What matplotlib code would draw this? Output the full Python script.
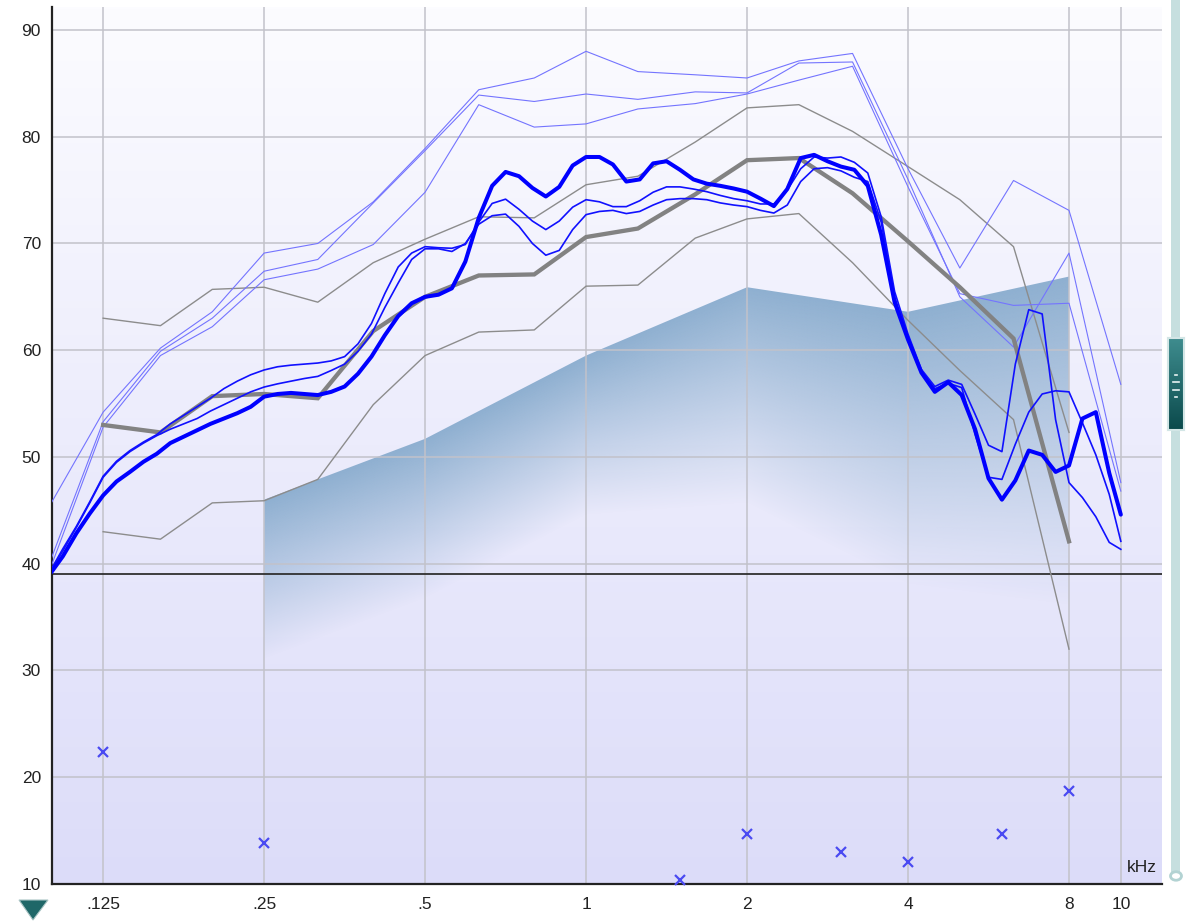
import numpy as np
import matplotlib
matplotlib.use("Agg")
import matplotlib.pyplot as plt
from matplotlib.patches import Polygon, Rectangle, Circle
from matplotlib.colors import to_rgb

plt.rcParams["font.family"] = ["Liberation Sans", "DejaVu Sans"]

# third-octave frequencies (kHz) for the polyline curves
third_khz = [0.1, 0.125, 0.16, 0.2, 0.25, 0.315, 0.4, 0.5, 0.63, 0.8, 1, 1.25,
             1.6, 2, 2.5, 3.15, 4, 5, 6.3, 8, 10]

light_1 = [45.7, 54.2, 60.2, 63.6, 69.1, 70.0, 73.9, 78.9, 84.4, 85.5, 88.0, 86.1,
           85.8, 85.5, 87.1, 87.8, 77.0, 67.7, 75.9, 73.1, 56.8]
light_2 = [40.5, 53.3, 59.9, 63.0, 67.4, 68.5, 73.8, 78.7, 83.9, 83.3, 84.0, 83.5,
           84.2, 84.1, 86.9, 87.0, 76.0, 65.0, 60.3, 69.1, 47.6]
light_3 = [39.8, 52.8, 59.5, 62.2, 66.6, 67.6, 69.9, 74.8, 83.0, 80.9, 81.2, 82.6,
           83.1, 84.0, 85.3, 86.6, 75.3, 65.3, 64.2, 64.4, 46.8]

# speech range band (.125 - 8 kHz)
band_khz = third_khz[1:20]
upper_gray = [63.0, 62.3, 65.7, 65.9, 64.5, 68.2, 70.4, 72.5, 72.4, 75.5, 76.3, 79.5,
              82.7, 83.0, 80.5, 77.2, 74.1, 69.7, 52.3]
target = [53.0, 52.3, 55.7, 55.9, 55.5, 61.8, 65.0, 67.0, 67.1, 70.6, 71.4, 74.6,
          77.8, 78.0, 74.7, 70.2, 65.9, 61.1, 42.1]
lower_gray = [43.0, 42.3, 45.7, 45.9, 47.9, 54.9, 59.5, 61.7, 61.9, 66.0, 66.1, 70.5,
              72.3, 72.8, 68.2, 62.8, 58.1, 53.5, 32.0]

# 1/12-octave frequencies for the measured curves
fine_khz = [0.1, 0.1051, 0.1114, 0.118,
            0.125, 0.1324, 0.1403, 0.1487, 0.1575, 0.1669, 0.1768, 0.1873, 0.1984, 0.2102, 0.2227, 0.236,
            0.25, 0.2649, 0.2806, 0.2973, 0.315, 0.3337, 0.3536, 0.3746, 0.3969, 0.4204, 0.4454, 0.4719,
            0.5, 0.5297, 0.5612, 0.5946, 0.63, 0.6674, 0.7071, 0.7492, 0.7937, 0.8409, 0.8909, 0.9439,
            1.0, 1.0595, 1.1225, 1.1892, 1.2599, 1.3348, 1.4142, 1.4983, 1.5874, 1.6818, 1.7818, 1.8877,
            2.0, 2.1189, 2.2449, 2.3784, 2.5198, 2.6697, 2.8284, 2.9966, 3.1748, 3.3636, 3.5636, 3.7755,
            4.0, 4.2379, 4.4898, 4.7568, 5.0397, 5.3394, 5.6569, 5.9932, 6.3496, 6.7272, 7.1272, 7.551,
            8.0, 8.4757, 8.9797, 9.5137, 10.0]

thick_blue = [39.2, 40.7, 42.85, 44.7,
              46.4, 47.7, 48.6, 49.55, 50.3, 51.3, 51.9, 52.5, 53.1, 53.6, 54.1, 54.7,
              55.65, 55.9, 56.0, 55.9, 55.8, 56.1, 56.6, 57.8, 59.4, 61.4, 63.2, 64.4,
              65.0, 65.2, 65.8, 68.3, 72.4, 75.4, 76.7, 76.3, 75.2, 74.4, 75.3, 77.3,
              78.1, 78.1, 77.4, 75.8, 76.0, 77.5, 77.7, 76.9, 76.0, 75.6, 75.4, 75.15,
              74.85, 74.2, 73.5, 75.1, 78.0, 78.3, 77.7, 77.2, 76.9, 75.4, 70.8, 64.5,
              61.0, 57.9, 56.1, 57.0, 55.8, 52.6, 48.0, 46.0, 47.8, 50.6, 50.2, 48.6,
              49.2, 53.6, 54.2, 48.5, 44.6]
mid_blue_a = [39.4, 41.2, 43.4, 45.7,
              48.1, 49.5, 50.5, 51.3, 52.0, 52.6, 53.1, 53.6, 54.3, 54.9, 55.5, 56.1,
              56.55, 56.85, 57.1, 57.35, 57.55, 58.1, 58.7, 59.9, 61.5, 64.0, 66.3, 68.5,
              69.5, 69.5, 69.25, 70.0, 71.8, 72.6, 72.75, 71.6, 70.0, 68.9, 69.35, 71.3,
              72.7, 73.0, 73.1, 72.8, 73.0, 73.6, 74.1, 74.2, 74.2, 74.1, 73.8, 73.6,
              73.45, 73.1, 72.85, 73.6, 75.8, 77.0, 77.1, 76.8, 76.2, 75.8, 72.0, 65.0,
              61.2, 58.0, 56.4, 56.9, 56.5, 52.1, 48.1, 47.9, 51.2, 54.2, 55.9, 56.2,
              56.1, 53.2, 50.2, 46.5, 42.1]
mid_blue_b = [39.5, 41.4, 43.5, 45.8,
              48.2, 49.6, 50.6, 51.4, 52.1, 53.1, 53.9, 54.7, 55.5, 56.4, 57.1, 57.7,
              58.15, 58.45, 58.6, 58.7, 58.8, 59.0, 59.4, 60.6, 62.5, 65.3, 67.8, 69.1,
              69.7, 69.6, 69.55, 69.9, 72.0, 73.75, 74.15, 73.2, 72.1, 71.3, 72.1, 73.4,
              74.1, 73.9, 73.45, 73.45, 74.0, 74.8, 75.3, 75.3, 75.1, 74.85, 74.5, 74.2,
              74.0, 73.7, 73.7, 75.0, 77.0, 78.1, 78.0, 78.1, 77.6, 76.6, 72.5, 65.5,
              61.5, 58.2, 56.6, 57.2, 56.8, 54.0, 51.1, 50.5, 58.7, 63.8, 63.4, 53.5,
              47.6, 46.2, 44.4, 42.0, 41.35]

# shaded area (upper edge)
shade_khz = [0.25, 0.5, 1, 2, 4, 8]
shade_top = [46.0, 51.7, 59.5, 65.9, 63.6, 66.9]

# x markers
mark_khz = [0.125, 0.25, 1.5, 2, 3, 4, 6, 8]
mark_db = [22.4, 13.8, 10.4, 14.7, 13.0, 12.1, 14.7, 18.7]

xtick_khz = [0.125, 0.25, 0.5, 1, 2, 4, 8, 10]
xtick_labels = [".125", ".25", ".5", "1", "2", "4", "8", "10"]
ytick_db = [10, 20, 30, 40, 50, 60, 70, 80, 90]

W, H = 1196, 921
xlo, xhi = 0.1003, 11.94
ylo, yhi = 10, 92.15

fig = plt.figure(figsize=(W / 100, H / 100), dpi=100)
rect = [52 / W, 37 / H, 1110 / W, 877 / H]

# background gradient
bg_ax = fig.add_axes(rect, zorder=0)
g = np.linspace(0, 1, 256)[:, None, None]
top_c = np.array([252, 252, 255]) / 255
bot_c = np.array([220, 220, 249]) / 255
bg = top_c * (1 - g) + bot_c * g
bg_ax.imshow(bg, aspect="auto", extent=(0, 1, 0, 1))
bg_ax.axis("off")

ax = fig.add_axes(rect, zorder=1)
ax.patch.set_alpha(0)
ax.set_xscale("log")
ax.set_autoscale_on(False)
ax.set_xlim(xlo, xhi)
ax.set_ylim(ylo, yhi)

# shaded area with a gradient fading downwards
nx, ny = 700, 600
u = np.linspace(0, 1, nx)
v = np.linspace(0, 1, ny)
fu = 10 ** (np.log10(xlo) + u * (np.log10(xhi) - np.log10(xlo)))
dbv = ylo + v * (yhi - ylo)
top_edge = np.interp(np.log2(fu), np.log2(shade_khz), shade_top)
depth = top_edge[None, :] - dbv[:, None]
octs = np.log2(fu)
fade_len = np.where(octs <= 0, 15.0, 15.0 + 5.3 * octs)
alpha = np.clip(1 - depth / fade_len[None, :], 0, 1) * 0.95
rgba = np.zeros((ny, nx, 4))
rgba[..., :3] = to_rgb("#89acce")
rgba[..., 3] = alpha
im = ax.imshow(rgba, extent=(0, 1, 0, 1), origin="lower", transform=ax.transAxes,
               aspect="auto", zorder=1, interpolation="bilinear")
area = ax.fill_between(shade_khz, ylo, shade_top, facecolor="none", edgecolor="none")
im.set_clip_path(area.get_paths()[0], ax.transData)

# grid
ax.set_axisbelow("line")
ax.grid(True, which="major", color="#c2c2ca", linewidth=1.1)
ax.minorticks_off()
ax.set_xticks(xtick_khz)
ax.set_xticklabels(xtick_labels)
ax.set_yticks(ytick_db)
ax.tick_params(length=0, labelsize=12.5, colors="#222222")
ax.tick_params(axis="x", pad=9)
ax.tick_params(axis="y", pad=8)

for s in ["top", "right"]:
    ax.spines[s].set_visible(False)
for s in ["left", "bottom"]:
    ax.spines[s].set_color("#222222")
    ax.spines[s].set_linewidth(1.6)

ax.axhline(39, color="#303030", linewidth=1.3, zorder=2.2)

# curves
for band in (upper_gray, lower_gray):
    ax.plot(band_khz, band, color="#8c8c8c", linewidth=1.0, zorder=2.4)
for lt in (light_1, light_2, light_3):
    ax.plot(third_khz, lt, color="#7474ff", linewidth=0.8, zorder=2.6)
ax.plot(band_khz, target, color="#828282", linewidth=3.1, zorder=3,
        solid_joinstyle="miter")
ax.plot(fine_khz, mid_blue_a, color="#1010ff", linewidth=1.2, zorder=4,
        solid_joinstyle="round")
ax.plot(fine_khz, mid_blue_b, color="#1010ff", linewidth=1.2, zorder=4,
        solid_joinstyle="round")
ax.plot(fine_khz, thick_blue, color="#0000ff", linewidth=2.9, zorder=5,
        solid_joinstyle="round", solid_capstyle="round")

ax.plot(mark_khz, mark_db, linestyle="none", marker="x", color="#4a4af2",
        markersize=6.5, markeredgewidth=1.6, zorder=6, clip_on=False)

ax.text(0.9955, 0.019, "kHz", transform=ax.transAxes, ha="right", va="center",
        fontsize=12.5, color="#222222")


# right slider and small marker (figure decoration)
def fx(px):
    return px / W


def fy(py):
    return 1 - py / H


fig.add_artist(Rectangle((fx(1171), fy(872)), fx(9), 872 / H, facecolor="#c6dfdf",
                         edgecolor="none", zorder=1))
fig.add_artist(Circle((fx(1176), fy(876)), 5.5 / W, facecolor="white",
                      edgecolor="#b3d3d3", linewidth=2, zorder=1))
knob_ax = fig.add_axes([fx(1168), fy(430), 16 / W, 92 / H], zorder=5)
kg = np.linspace(0, 1, 64)[:, None, None]
k_top = np.array(to_rgb("#3f8d8f"))
k_bot = np.array(to_rgb("#0b4a4c"))
knob_ax.imshow(k_top * (1 - kg) + k_bot * kg, aspect="auto", extent=(0, 1, 0, 1))
for yy, ww in [(0.6, 0.08), (0.52, 0.2), (0.44, 0.2), (0.36, 0.08)]:
    knob_ax.plot([0.5 - ww, 0.5 + ww], [yy, yy], color="#e8f2f2", linewidth=1.2)
knob_ax.set_xlim(0, 1)
knob_ax.set_ylim(0, 1)
knob_ax.set_xticks([])
knob_ax.set_yticks([])
for s in knob_ax.spines.values():
    s.set_color("#d3e6e6")
    s.set_linewidth(1.5)

fig.add_artist(Polygon([(fx(19), fy(900)), (fx(48), fy(900)), (fx(33), fy(920))],
                       closed=True, facecolor="#1f6768", edgecolor="#a9c4c4",
                       linewidth=0.8, zorder=1))

fig.savefig("out.png", dpi=100)
